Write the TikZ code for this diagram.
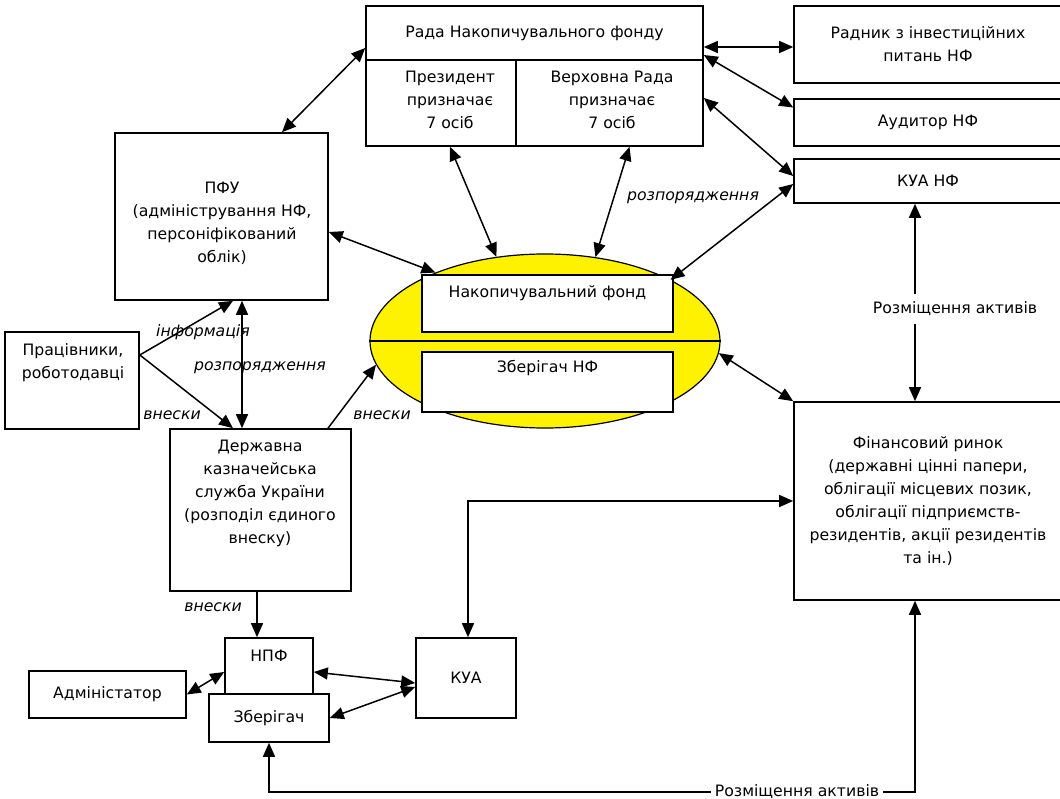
\documentclass[tikz,border=0pt]{standalone}
\usepackage{fontspec}
\setmainfont{DejaVu Sans}
\usetikzlibrary{arrows.meta,shapes.geometric,calc}

\tikzset{
  blk/.style={draw, line width=1.6pt, fill=white, align=center, inner sep=0pt,
    font=\fontsize{15.7pt}{23pt}\selectfont},
  txt/.style={align=center, inner sep=0pt, font=\fontsize{15.7pt}{23pt}\selectfont},
  lbl/.style={inner sep=1pt, font=\fontsize{15.7pt}{23pt}\selectfont\itshape},
  dbl/.style={line width=1.5pt, {Triangle[length=14pt,width=12pt]}-{Triangle[length=14pt,width=12pt]}},
  one/.style={line width=1.5pt, -{Triangle[length=14pt,width=12pt]}},
}

\begin{document}
\begin{tikzpicture}[x=1pt,y=-1pt]
\clip (0,0) rectangle (1060,799);
\fill[white] (0,0) rectangle (1060,799);

% rada
\node[blk, minimum width=337, minimum height=54] (radatop) at (534.5,33) {Рада Накопичувального фонду};
\node[blk, minimum width=150, minimum height=86] (pres) at (441,103) {};
\node[txt] (prestxt) at (450,100) {Президент\\призначає\\7 осіб};
\node[blk, minimum width=187, minimum height=86] (verkh) at (609.5,103) {};
\node[txt] (verkhtxt) at (612,100) {Верховна Рада\\призначає\\7 осіб};

% right column
\node[blk, minimum width=268, minimum height=77] (radnyk) at (928,44.5) {Радник з інвестиційних\\питань НФ};
\node[blk, minimum width=268, minimum height=47] (auditor) at (928,122.5) {Аудитор НФ};
\node[blk, minimum width=268, minimum height=44] (kuanf) at (928,181) {КУА НФ};
\node[blk, minimum width=268, minimum height=198] (finmkt) at (928,501) {Фінансовий ринок\\(державні цінні папери,\\облігації місцевих позик,\\облігації підприємств-\\резидентів, акції резидентів\\та ін.)};

% left column
\node[blk, minimum width=213, minimum height=167] (pfu) at (221.5,216.5) {};
\node[txt] (pfutxt) at (222,223) {ПФУ\\(адміністрування НФ,\\персоніфікований\\облік)};
\node[blk, minimum width=134, minimum height=97] (workers) at (72,380.5) {};
\node[txt] (workerstxt) at (73,362.5) {Працівники,\\роботодавці};
\node[blk, minimum width=181, minimum height=162] (treasury) at (260.5,510) {};
\node[txt] (treasurytxt) at (260,493) {Державна\\казначейська\\служба України\\(розподіл єдиного\\внеску)};

% fund
\node[ellipse, draw, line width=1.2pt, fill=yellow, minimum width=350, minimum height=174, inner sep=0pt] (nf) at (545,341) {};
\draw[line width=1.2pt] (nf.west) -- (nf.east);
\node[blk, minimum width=251, minimum height=57] (nfund) at (547.5,303.5) {};
\node[txt] (nfundtxt) at (547.5,293) {Накопичувальний фонд};
\node[blk, minimum width=251, minimum height=60] (zbnf) at (547.5,382) {};
\node[txt] (zbnftxt) at (547.5,368) {Зберігач НФ};

% bottom
\node[blk, minimum width=88, minimum height=62] (npf) at (269,669) {};
\node[txt] (npftxt) at (269,656) {НПФ};
\node[blk, minimum width=120, minimum height=48] (zber) at (269,718) {Зберігач};
\node[blk, minimum width=157, minimum height=47] (admin) at (107.5,694.5) {Адміністатор};
\node[blk, minimum width=100, minimum height=80] (kua) at (466,678) {КУА};

% labels
\node[lbl] (rozp1) at (693,198) {розпорядження};
\node[lbl] (rozp2) at (260,368) {розпорядження};
\node[lbl] (info) at (203,332) {інформація};
\node[lbl] (vn1) at (172,415) {внески};
\node[lbl] (vn2) at (382,415) {внески};
\node[lbl] (vn3) at (213,607) {внески};
\node[txt, inner ysep=8pt] (rozm1) at (955,309) {Розміщення активів};
\coordinate (rozmc) at (797,792);

% arrows
\draw[dbl] ([yshift=-15]radatop.west) -- ([xshift=60.5]pfu.north);
\draw[dbl] ([yshift=-14]radatop.east) -- ([yshift=-14]radatop.east -| radnyk.west);
\draw[dbl] ([yshift=-22]radatop.east) -- ([yshift=15]auditor.west);
\draw[dbl] ([yshift=5]verkh.east) -- ([yshift=5]kuanf.west);
\draw[dbl] (nf.26) -- ([yshift=-3]kuanf.west);
\draw[dbl] ([xshift=9]pres.south) -- (nf.120);
\draw[dbl] ([xshift=20]verkh.south) -- (nf.59);
\draw[dbl] ([yshift=-15.5]pfu.east) -- (nf.148);
\draw[dbl] (nf.-4) -- (finmkt.north west);
\draw[one] ([xshift=-13]kuanf.south |- rozm1.north) -- ([xshift=-13]kuanf.south);
\draw[one] ([xshift=-13]finmkt.north |- rozm1.south) -- ([xshift=-13]finmkt.north);
\draw[one] ([yshift=25.5]workers.east) -- ([xshift=11.5]pfu.south);
\draw[one] ([yshift=25.5]workers.east) -- ([xshift=-27.5]treasury.north);
\draw[dbl] ([xshift=20.5]pfu.south) -- ([xshift=20.5]pfu.south |- treasury.north);
\draw[one] ([xshift=67.5]treasury.north) -- (nf.188);
\draw[one] ([xshift=-3.5]treasury.south) -- ([xshift=-3.5]treasury.south |- npf.north);
\draw[dbl] (admin.east) -- ([yshift=-3]npf.west);
\draw[dbl] ([yshift=-3]npf.east) -- ([yshift=-5]kua.west);
\draw[dbl] (zber.east) -- ([yshift=-9]kua.west);
\draw[dbl] ([xshift=2]kua.north) |- (finmkt.west);
\draw[dbl] ([xshift=-13]finmkt.south) -- ([xshift=-13]finmkt.south |- rozmc) -- (rozmc -| zber.south) -- (zber.south);
\node[txt, fill=white, inner xsep=4pt, inner ysep=2pt] (rozm2) at (rozmc) {Розміщення активів};
\end{tikzpicture}
\end{document}
